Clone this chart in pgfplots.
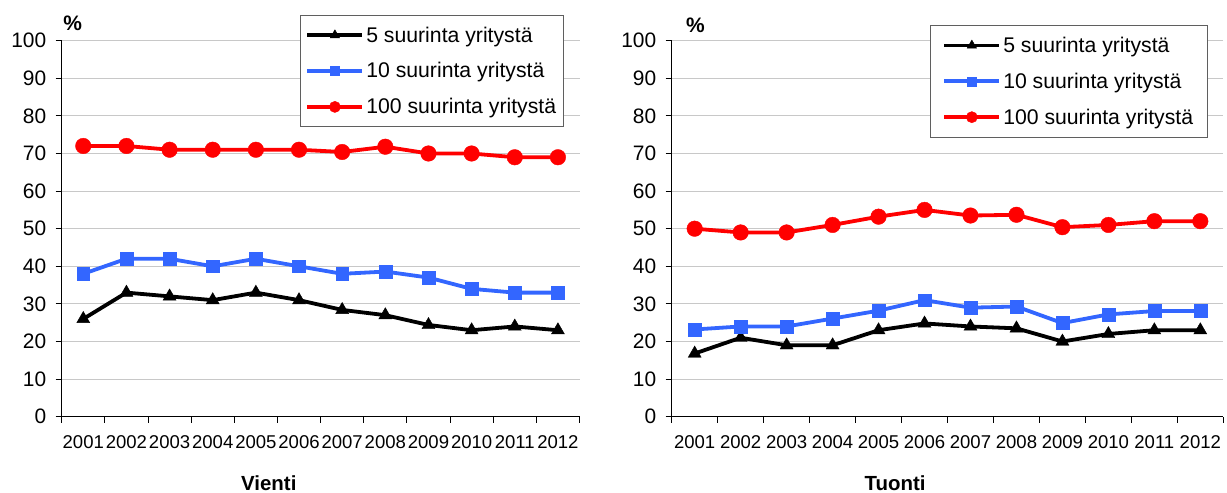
\documentclass[border=0pt]{standalone}
\usepackage{fontspec}
\setmainfont{Liberation Sans}
\usepackage{pgfplots}
\pgfplotsset{compat=1.18}
\definecolor{myblue}{RGB}{51,102,255}
\definecolor{gridgray}{RGB}{200,200,200}
\definecolor{legframe}{RGB}{95,95,95}

\pgfplotsset{
  panel/.style={
    scale only axis, height=376bp,
    xmin=0.5, xmax=12.5, ymin=0, ymax=100,
    axis lines=left,
    axis line style={-, black, line width=1bp},
    tick align=outside,
    tick style={black, line width=1bp},
    ytick={0,10,...,100},
    major tick length=6bp,
    minor tick length=6bp,
    xtick={1,...,12},
    xticklabels={2001,2002,2003,2004,2005,2006,2007,2008,2009,2010,2011,2012},
    xtick style={/pgfplots/major tick length=0bp},
    minor xtick={0.5,1.5,...,12.5},
    ymajorgrids,
    major grid style={gridgray, line width=0.8bp},
    /pgf/number format/assume math mode=true,
    yticklabel style={font=\fontsize{21}{25}\selectfont, xshift=-6bp},
    xticklabel style={font=\fontsize{18.6}{22}\selectfont, anchor=north, inner sep=0bp, yshift=-12.5bp},
    clip=false,
    legend cell align=left,
    legend image code/.code={\draw[mark repeat=2,mark phase=2,/tikz/every mark/.append style={scale=0.72}] plot coordinates {(0bp,0bp)(27.5bp,0bp)(55bp,0bp)};},
  },
  s5/.style={black, line width=3.8bp, mark=triangle*, mark size=7.5bp, mark options={solid, line width=0.4bp}},
  s10/.style={myblue, line width=3.8bp, mark=square*, mark size=6.4bp, mark options={solid, line width=0.4bp}},
  s100/.style={red, line width=3.8bp, mark=*, mark size=7.8bp, mark options={solid, line width=0.4bp}},
}

\begin{document}
\begin{tikzpicture}
\useasboundingbox (-61.7bp,-76.3bp) rectangle (1165.3bp,416.7bp);
% ---- Vienti ----
\begin{axis}[panel, width=517.8bp,
  legend style={at={(0.460,1.068)}, anchor=north west, draw=legframe, line width=1.2bp, fill=white,
    inner xsep=5bp, inner ysep=9bp, font=\fontsize{21.3}{25}\selectfont,
    row sep=15bp, column sep=0bp, nodes={inner sep=2bp}}]
\addplot[s5] coordinates {(1,26) (2,33) (3,32) (4,31) (5,33) (6,31) (7,28.4) (8,27) (9,24.4) (10,23) (11,24) (12,23)};
\addlegendentry{5 suurinta yritystä}
\addplot[s10] coordinates {(1,38) (2,42) (3,42) (4,40) (5,42) (6,40) (7,38) (8,38.6) (9,37) (10,34) (11,33) (12,33)};
\addlegendentry{10 suurinta yritystä}
\addplot[s100] coordinates {(1,72) (2,72) (3,71) (4,71) (5,71) (6,71) (7,70.4) (8,71.8) (9,70) (10,70) (11,69) (12,69)};
\addlegendentry{100 suurinta yritystä}
\node[font=\fontsize{21}{25}\selectfont\bfseries] at (axis description cs:0.021,1.047) {\%};
\node[anchor=base, font=\fontsize{20.5}{24}\selectfont\bfseries] at (axis description cs:0.400,-0.197) {Vienti};
\end{axis}
% ---- Tuonti ----
\begin{axis}[panel, width=551.6bp, at={(610bp,0bp)},
  legend style={at={(0.468,1.042)}, anchor=north west, draw=legframe, line width=1.2bp, fill=white,
    inner xsep=12bp, inner ysep=9.5bp, font=\fontsize{21.3}{25}\selectfont,
    row sep=15bp, column sep=0bp, nodes={inner sep=2bp}}]
\addplot[s5] coordinates {(1,16.8) (2,21) (3,19) (4,19) (5,23) (6,24.8) (7,24) (8,23.5) (9,20) (10,22) (11,23) (12,23)};
\addlegendentry{5 suurinta yritystä}
\addplot[s10] coordinates {(1,23.2) (2,24) (3,24) (4,26.1) (5,28.2) (6,31) (7,29) (8,29.3) (9,24.9) (10,27.2) (11,28.1) (12,28.1)};
\addlegendentry{10 suurinta yritystä}
\addplot[s100] coordinates {(1,50) (2,49) (3,49) (4,51) (5,53.2) (6,55) (7,53.5) (8,53.7) (9,50.4) (10,51) (11,52) (12,52)};
\addlegendentry{100 suurinta yritystä}
\node[font=\fontsize{21}{25}\selectfont\bfseries] at (axis description cs:0.043,1.042) {\%};
\node[anchor=base, font=\fontsize{20.5}{24}\selectfont\bfseries] at (axis description cs:0.405,-0.197) {Tuonti};
\end{axis}
\end{tikzpicture}
\end{document}
